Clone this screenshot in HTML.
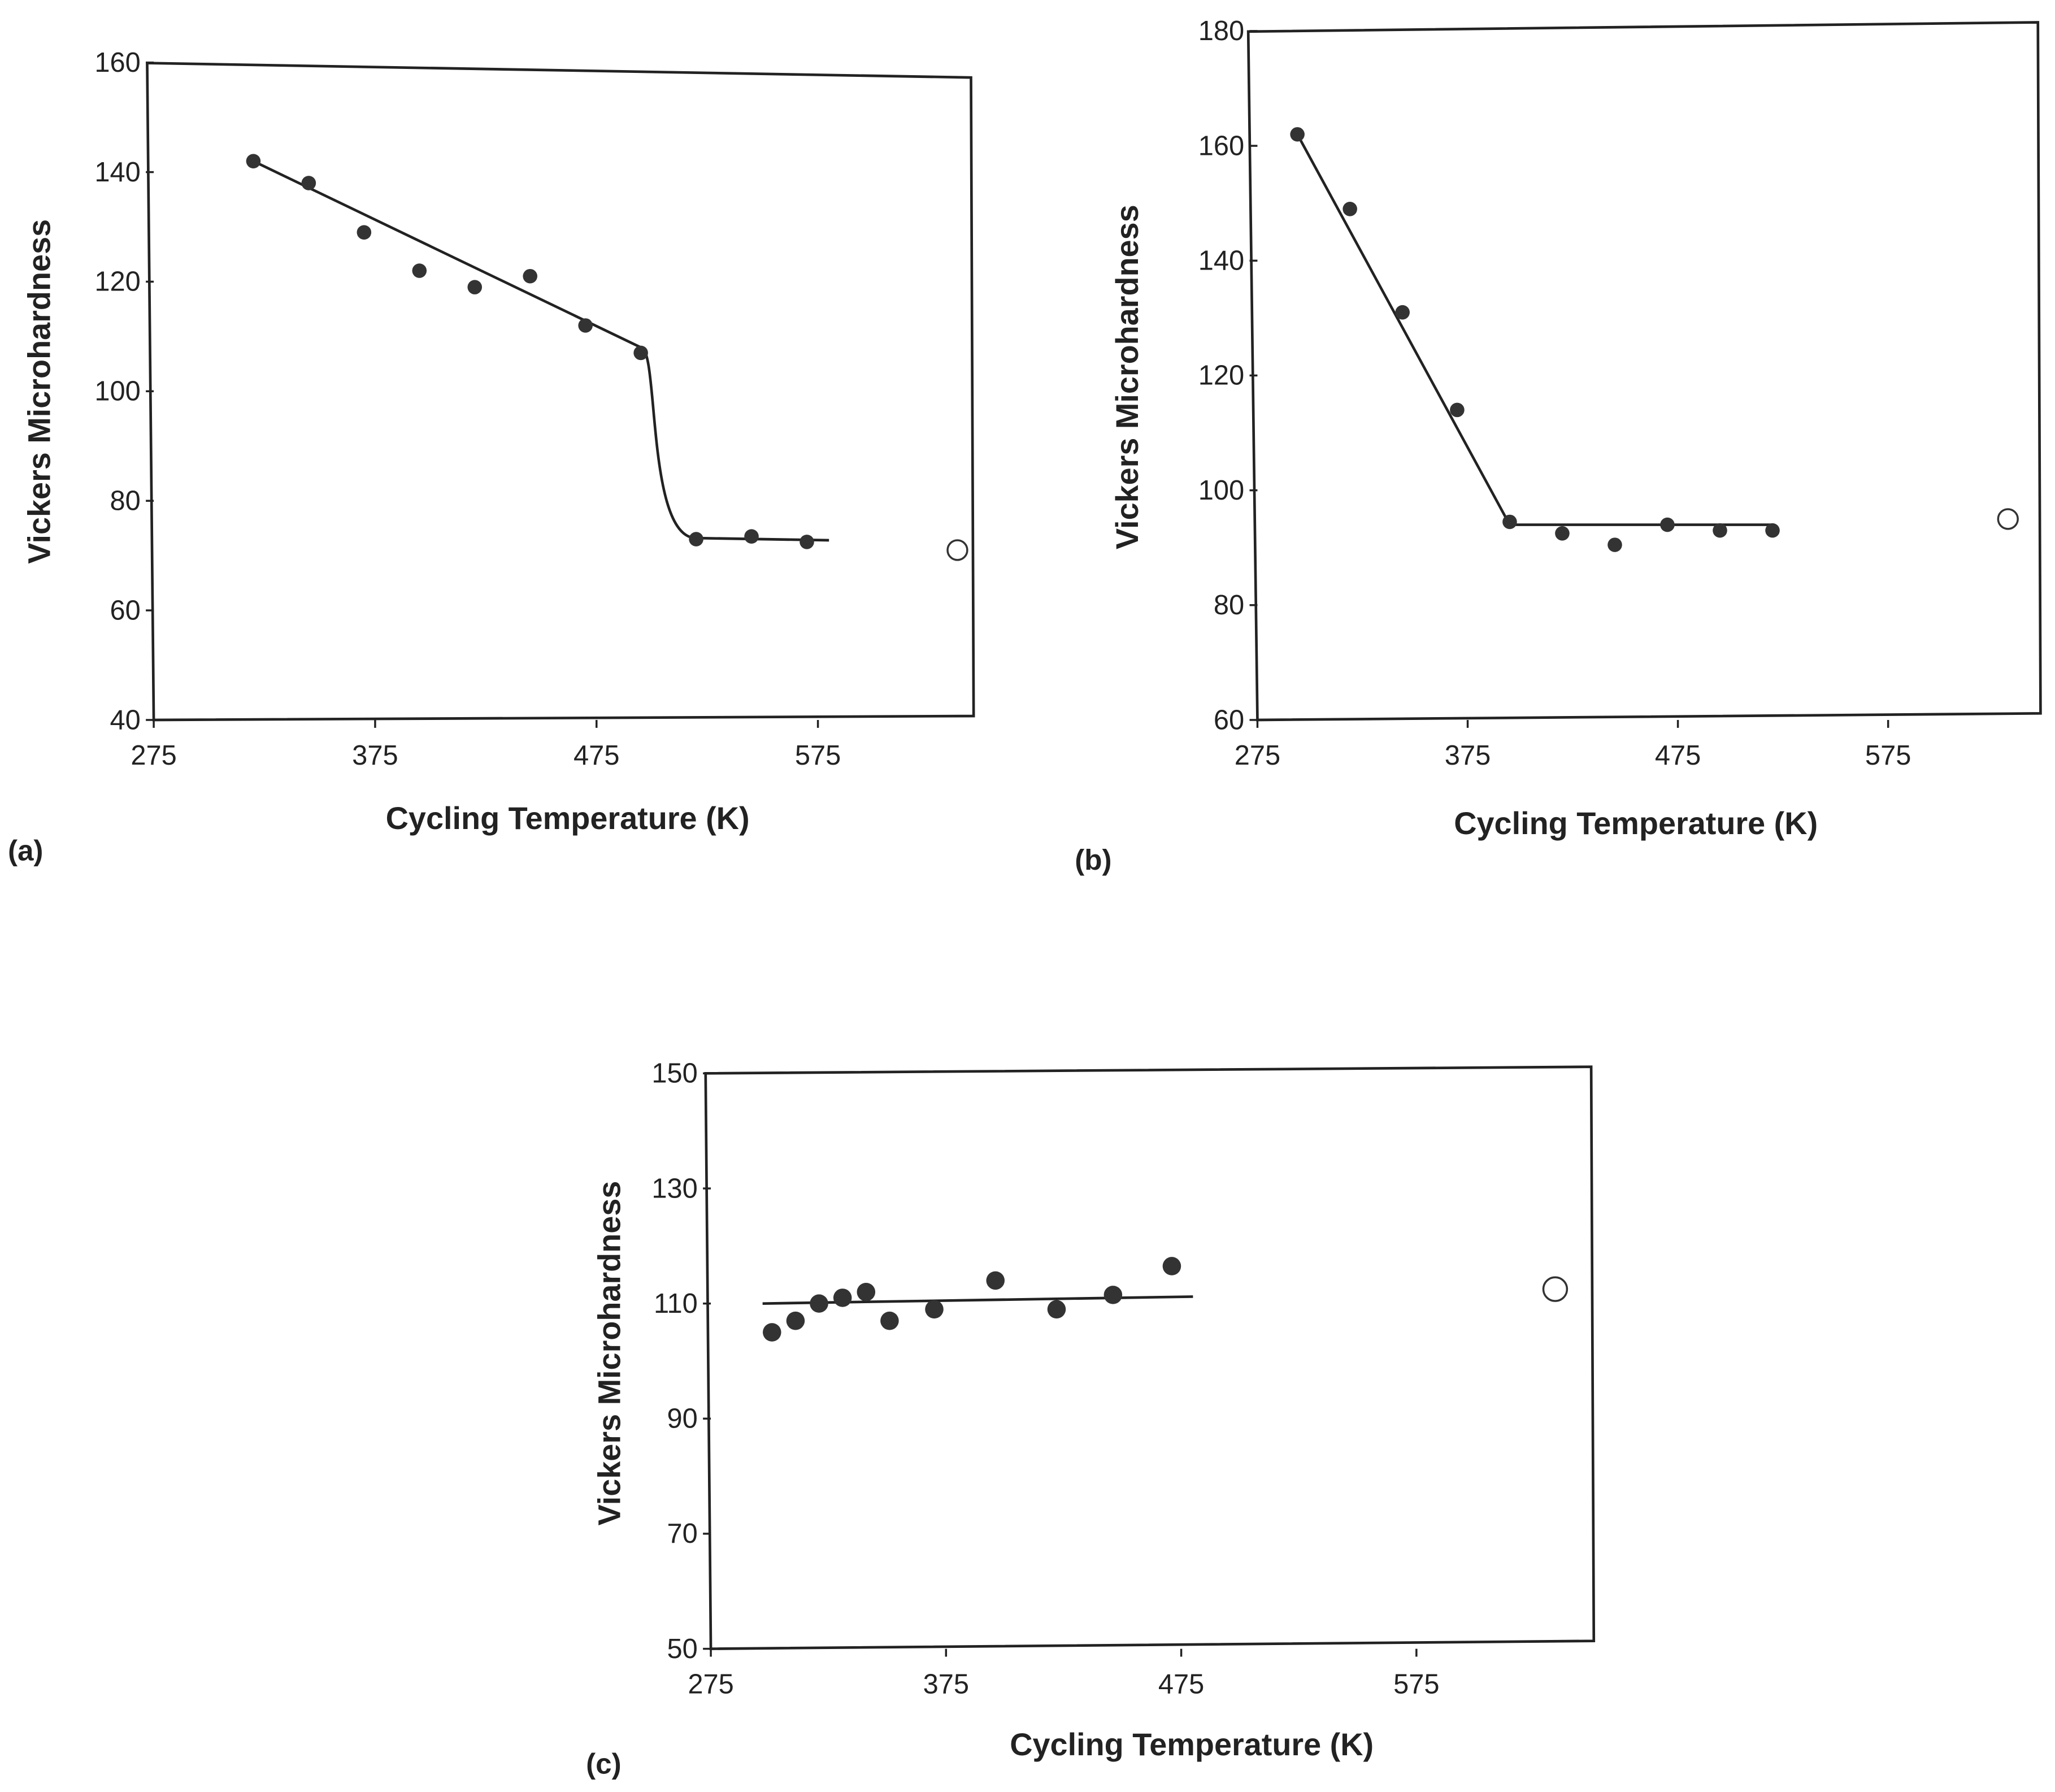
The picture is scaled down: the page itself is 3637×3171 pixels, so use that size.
<!DOCTYPE html>
<html><head><meta charset="utf-8"><style>
html,body{margin:0;padding:0;background:#fff;}
svg{display:block;}
text{font-family:"Liberation Sans",Arial,sans-serif;fill:#222;}
.tick{font-size:21px;}
.ax{font-size:24px;font-weight:bold;}
.pl{font-size:22px;font-weight:bold;}
</style></head><body>
<svg id="fig" width="3637" height="3171" viewBox="0 0 1564 1364" preserveAspectRatio="none" xmlns="http://www.w3.org/2000/svg">
<rect width="1564" height="1364" fill="#fff"/>
</svg>
<script>
// Panel (a)
const aTemps=[320,345,370,395,420,445,470,495,520,545,570];
const aValues=[142,138,129,122,119,121,112,107,73,73.5,72.5];
const aOpen=[638,71];
const aYTicks=[40,60,80,100,120,140,160];
const aXTicks=[275,375,475,575];
// Panel (b)
const bTemps=[294,319,344,370,395,420,445,470,495,520];
const bValues=[162,149,131,114,94.5,92.5,90.5,94,93,93];
const bOpen=[632,95];
const bYTicks=[60,80,100,120,140,160,180];
const bXTicks=[275,375,475,575];
// Panel (c)
const cTemps=[301,311,321,331,341,351,370,396,422,446,471];
const cValues=[105,107,110,111,112,107,109,114,109,111.5,116.5];
const cOpen=[634,112.5];
const cYTicks=[50,70,90,110,130,150];
const cXTicks=[275,375,475,575];

const NS="http://www.w3.org/2000/svg";
const svg=document.getElementById('fig');
function mk(tag,attrs,parent){const e=document.createElementNS(NS,tag);for(const k in attrs)e.setAttribute(k,attrs[k]);(parent||svg).appendChild(e);return e;}

function panel(cfg){
  const g=mk('g',{});
  
  
  const X=v=>cfg.x0+(v-275)*cfg.xs;
  const Y=v=>cfg.yb-(v-cfg.ymin)*cfg.ys;
  const f=mk('polygon',{points:cfg.frame,fill:'none',stroke:'#222','stroke-width':2},g);
  
  
  cfg.yt.forEach(t=>{
    const l=mk('line',{x1:X(275)-6,x2:X(275),y1:Y(t),y2:Y(t),stroke:'#222','stroke-width':1.5},g);
    
    
    const tx=mk('text',{x:X(275)-10,y:Y(t)+7,'text-anchor':'end',class:'tick'},g);tx.textContent=t;
    
    
  });
  cfg.xt.forEach(t=>{
    const l=mk('line',{x1:X(t),x2:X(t),y1:cfg.yb,y2:cfg.yb+6,stroke:'#222','stroke-width':1.5},g);
    
    
    const tx=mk('text',{x:X(t),y:cfg.yb+34,'text-anchor':'middle',class:'tick'},g);tx.textContent=t;
    
    
  });
  let path=cfg.line.map((p,i)=>(i?'L':'M')+X(p[0])+' '+Y(p[1])).join(' ');
  if(cfg.curve){
    const [p1,p2]=cfg.curve;
    path='M'+X(cfg.line[0][0])+' '+Y(cfg.line[0][1])+' L'+X(p1[0])+' '+Y(p1[1])+
      ' C'+(X(p1[0])+14)+' '+Y(p1[1])+' '+(X(p1[0])+4)+' '+Y(p2[1])+' '+X(p2[0])+' '+Y(p2[1])+
      ' L'+X(cfg.line[1][0])+' '+Y(cfg.line[1][1]);
  }
  const ln=mk('path',{d:path,fill:'none',stroke:'#222','stroke-width':2},g);
  
  
  cfg.t.forEach((t,i)=>{
    const c=mk('circle',{cx:X(t),cy:Y(cfg.v[i]),r:cfg.r,fill:'#333'},g);
    
    
  });
  const o=mk('circle',{cx:X(cfg.open[0]),cy:Y(cfg.open[1]),r:cfg.r+2,fill:'none',stroke:'#333','stroke-width':1.5},g);
  
  
  const xl=mk('text',{x:cfg.xlab[0],y:cfg.xlab[1],'text-anchor':'middle',class:'ax'},g);xl.textContent='Cycling Temperature (K)';
  
  
  const yl=mk('text',{x:0,y:0,'text-anchor':'middle',class:'ax',transform:'translate('+cfg.ylab[0]+','+cfg.ylab[1]+') rotate(-90)'},g);yl.textContent='Vickers Microhardness';
  
  
  const pl=mk('text',{x:cfg.plab[0],y:cfg.plab[1],class:'pl'},g);pl.textContent='('+cfg.id+')';
  
  
}

panel({id:'a',x0:117,xs:1.685,yb:548,ymin:40,ys:4.17,yt:aYTicks,xt:aXTicks,t:aTemps,v:aValues,open:aOpen,r:5.5,
  frame:'112,48 739,59 741,545 117,548',
  line:[[320,142],[580,72.8]],curve:[[495,108],[520,73.2]],
  xlab:[432,631],ylab:[38,298],plab:[6,655]});
panel({id:'b',x0:957,xs:1.6,yb:548,ymin:60,ys:4.37,yt:bYTicks,xt:bXTicks,t:bTemps,v:bValues,open:bOpen,r:5.5,
  frame:'950,24 1551,17 1553,543 957,548',
  line:[[294,162],[395,94],[520,94]],
  xlab:[1245,635],ylab:[866,287],plab:[818,662]});
panel({id:'c',x0:541,xs:1.79,yb:1255,ymin:50,ys:4.38,yt:cYTicks,xt:cXTicks,t:cTemps,v:cValues,open:cOpen,r:7,
  frame:'537,817 1211,812 1213,1249 541,1255',
  line:[[297,110],[480,111.2]],
  xlab:[907,1336],ylab:[472,1030],plab:[446,1350]});
</script>
</body></html>
